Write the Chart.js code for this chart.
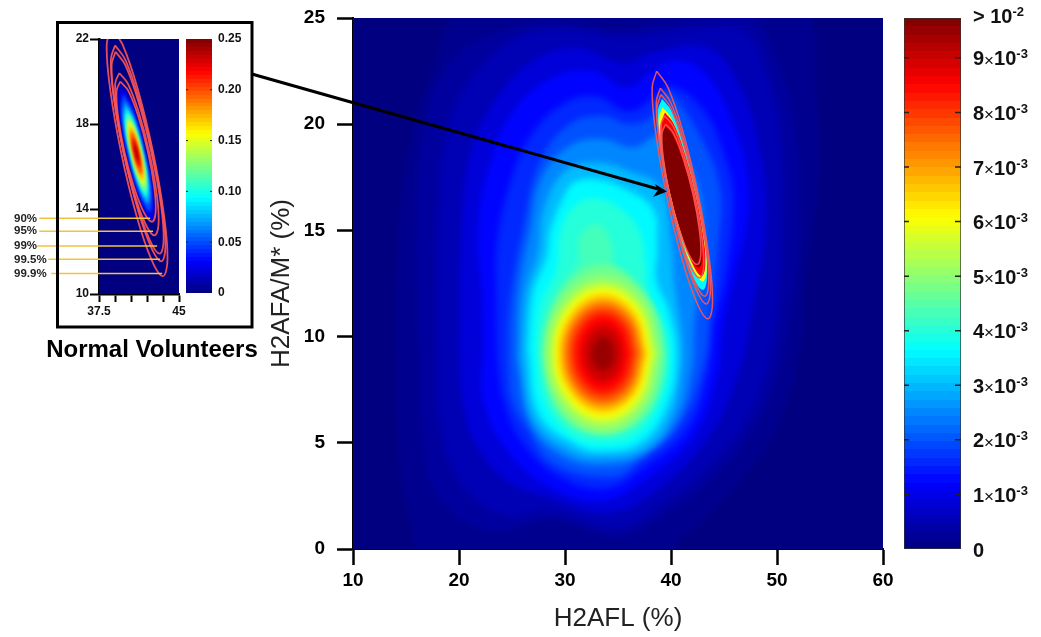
<!DOCTYPE html>
<html>
<head>
<meta charset="utf-8">
<title>H2AFL vs H2AFA/M*</title>
<script src="https://cdn.jsdelivr.net/npm/chart.js@4"></script>
<style>
body { margin: 0; background: #fff; overflow: hidden; font-family: "Liberation Sans", Arial, sans-serif; }
canvas, svg { position: absolute; left: 0; top: 0; }
#caption { position: absolute; left: 40px; top: 335px; width: 224px; text-align: center; font-size: 24px; font-weight: bold; color: #000; white-space: nowrap; }
</style>
</head>
<body>
<canvas id="insetChart" width="1041" height="637"></canvas>
<canvas id="insetBar" width="1041" height="637"></canvas>
<canvas id="mainChart" width="1041" height="637"></canvas>
<canvas id="mainBar" width="1041" height="637"></canvas>
<svg width="1041" height="637">
  <rect x="57.5" y="22.5" width="194.5" height="304.5" fill="none" stroke="#000" stroke-width="3"/>
  <line x1="252" y1="74" x2="658" y2="189" stroke="#000" stroke-width="3"/>
  <polygon points="667,191.5 655,184 658,190 653,197" fill="#000"/>
</svg>
<div id="caption">Normal Volunteers</div>

<script>
// patient density, levels in units of 1e-3
let heatLevels = [0.15, 0.3, 0.5, 0.85, 1.25, 1.6, 2, 2.5, 3, 3.6, 4, 4.3, 4.7, 5, 5.5, 6, 6.5, 7, 7.5, 8, 8.5, 9, 9.5];
let heatContours = [
  [[14.2,5],[14.1,8],[14.2,14],[15.3,19],[17.5,22.5],[20.7,25.6],[36,25.8],[52,25.6],[53.7,21],[53.8,17],[52.6,12.7],[52.2,9.5],[50,5.75],[46.5,3.2],[41,0.5],[38,-0.6],[17.5,-0.6],[15,2],[14.2,5]],
  [[16.2,10],[16,15.5],[16.9,20.3],[19.4,23],[24.2,24.4],[29.5,24.8],[35.5,24.4],[38.3,24.7],[44,25],[47.5,25.1],[49.6,23.4],[51.5,20.3],[52,15],[51.2,11],[49.3,7.2],[45.6,4.2],[39.6,1.7],[35,0.6],[28.9,1.35],[22.6,0.9],[17.9,2.6],[16.6,5.4],[16.2,10]],
  [[17.8,9],[18,15.5],[19,20],[21.8,22.6],[26,24.2],[30,24.5],[35.5,24.1],[38.3,24.3],[44,24.6],[47,24.4],[49,22.5],[50.3,19.5],[50.5,15],[50,11],[48.3,7.2],[44.8,4.5],[39.2,2.1],[35,1],[29,1.7],[24,1.6],[20,3.2],[18.2,5.8],[17.8,9]],
  [[20,9],[20.2,15],[21,18.5],[23.2,21],[27,23],[31,23.6],[35.6,22.9],[38.3,23.4],[43.5,23.6],[46.5,21.8],[48.3,19],[49,15.5],[47.8,11.5],[46.2,8],[43.2,5],[38.2,2.6],[34,1.7],[28.5,2.4],[24.5,3.2],[21.5,5],[20.3,7],[20,9]],
  [[22.2,12],[21.8,15],[22.8,17.9],[25.1,20.6],[28.9,22.2],[32.6,22.5],[35.8,21.7],[38.3,22.5],[40.5,23],[43.4,22.3],[46.2,19.5],[47.3,17.1],[47,15],[45.8,12.5],[44.9,10.5],[44.3,8],[42.1,5.3],[37.1,3.1],[33.6,2.3],[29,2.8],[24.8,4.5],[22.3,7],[22.3,9.5],[22.2,12]],
  [[23.6,9],[23.5,12],[23.6,14.5],[24.8,17.2],[26.8,19.5],[30,21],[33,21.3],[36,20.6],[38.5,21.3],[40,21.8],[43,20.7],[45,18.6],[45.9,16.5],[45.2,13],[44,10.5],[43.5,8.3],[41.5,5.6],[37,3.7],[33.8,2.85],[29.5,3.4],[26,5],[24.2,7],[23.6,9]],
  [[24.6,9],[24.7,11],[25.2,13],[26,15],[27.6,18.2],[30.4,20],[33.6,20.4],[36.1,20],[38.3,20.4],[39.6,21.5],[42.7,19.5],[44.6,17],[44.5,14.5],[43.7,11],[43.1,8.7],[40.9,5.9],[37.1,4.2],[34.5,3.4],[28.9,4],[26.5,5.6],[25,7],[24.6,9]],
  [[25.4,9],[25.6,12],[26.7,15],[27.8,17.5],[30.5,19],[33.5,19.3],[36.5,18.9],[39,19.5],[41.3,18.5],[43,16],[42.8,13],[42.2,10.5],[42,8.5],[40.5,6],[37.3,4.4],[33.8,3.95],[30,4.3],[26.8,5.8],[25.4,9]],
  [[25.9,9],[26.3,12],[27.5,14],[28,16],[30,17.8],[33,18.2],[36,17.8],[39,17],[40,14.5],[40.3,12.5],[41,10],[41,8.5],[40,6.2],[37.5,4.7],[33.6,4.3],[30.5,4.6],[27.1,6],[25.9,9]],
  [[26.5,9.4],[27,12.1],[28.3,13.8],[28.6,15],[30,16.7],[31,17.3],[33,17.4],[35.5,17],[38.3,16],[38.7,14.2],[38.6,12.7],[39.8,11.2],[40.5,9.1],[39.6,6.7],[37.1,5],[33.6,4.6],[31.1,4.9],[27.6,6.3],[26.5,9.4]],
  [[27.3,9.4],[27.7,11.5],[29.2,13.2],[29.6,15],[31,16.2],[33,16.5],[35.3,16],[37,15],[37.6,13.5],[37.9,12],[39.4,10.5],[39.8,9],[39,7],[36.8,5.4],[33.6,5],[30.5,5.4],[28,7],[27.3,9.4]],
  [[27.8,10.2],[29.5,12.3],[30.4,12.9],[31.3,13.6],[31.3,14.6],[33,15.3],[34.4,14.4],[34.6,13.2],[35.2,12.9],[37.7,11.7],[39.3,9.8],[39.3,8.1],[37.4,6.2],[33.6,5.6],[29.8,6.2],[28,8.3],[27.8,10.2]],
  [[28,9.2],[29.5,12],[33.6,13.4],[37.6,12],[39.2,9.2],[37.6,6.4],[33.6,5.4],[29.6,6.4],[28,9.2]],
  [[39.1,9.2],[37.45,11.8],[33.6,12.9],[29.75,11.8],[28.1,9.2],[29.75,6.6],[33.6,5.5],[37.45,6.6],[39.1,9.2]],
  [[38.6,9.2],[37.1,11.55],[33.6,12.55],[30.1,11.55],[28.6,9.2],[30.1,6.85],[33.6,5.85],[37.1,6.85],[38.6,9.2]],
  [[38.15,9.2],[36.8,11.35],[33.6,12.27],[30.4,11.35],[29.05,9.2],[30.4,7.05],[33.6,6.13],[36.8,7.05],[38.15,9.2]],
  [[37.8,9.2],[36.55,11.15],[33.6,12],[30.65,11.15],[29.4,9.2],[30.65,7.25],[33.6,6.4],[36.55,7.25],[37.8,9.2]],
  [[37.45,9.2],[36.3,11],[33.6,11.78],[30.9,11],[29.75,9.2],[30.9,7.4],[33.6,6.62],[36.3,7.4],[37.45,9.2]],
  [[37.1,9.2],[36.05,10.85],[33.6,11.55],[31.15,10.85],[30.1,9.2],[31.15,7.55],[33.6,6.85],[36.05,7.55],[37.1,9.2]],
  [[36.7,9.2],[35.8,10.67],[33.6,11.3],[31.4,10.67],[30.5,9.2],[31.4,7.73],[33.6,7.1],[35.8,7.73],[36.7,9.2]],
  [[36.2,9.2],[35.4,10.46],[33.6,11],[31.8,10.46],[31,9.2],[31.8,7.94],[33.6,7.4],[35.4,7.94],[36.2,9.2]],
  [[35.5,9.2],[34.93,10.15],[33.6,10.55],[32.27,10.15],[31.7,9.2],[32.27,8.25],[33.6,7.85],[34.93,8.25],[35.5,9.2]],
  [[34.7,9.2],[34.37,9.76],[33.6,10],[32.83,9.76],[32.5,9.2],[32.83,8.64],[33.6,8.4],[34.37,8.64],[34.7,9.2]]
];

// the tight normal volunteer population sitting on the main plot
let peakLevels = [3.6, 6, 8.5, 9.73];
let peakContours = [
  [[39.15,21.2],[40.06,20.6],[41.24,18.95],[42.38,16.7],[43.18,14.45],[43.4,12.8],[43.01,12.2],[42.1,12.8],[40.92,14.45],[39.78,16.7],[38.98,18.95],[38.76,20.6],[39.15,21.2]],
  [[39.2,20.8],[40.07,20.25],[41.22,18.75],[42.33,16.7],[43.12,14.65],[43.37,13.15],[43,12.6],[42.13,13.15],[40.98,14.65],[39.87,16.7],[39.08,18.75],[38.83,20.25],[39.2,20.8]],
  [[39.43,20.55],[40.24,20.03],[41.29,18.63],[42.31,16.7],[43.03,14.77],[43.24,13.37],[42.89,12.85],[42.08,13.37],[41.03,14.77],[40.01,16.7],[39.29,18.63],[39.09,20.03],[39.43,20.55]],
  [[39.43,19.95],[40.16,19.5],[41.12,18.28],[42.06,16.6],[42.72,14.92],[42.94,13.7],[42.63,13.25],[41.9,13.7],[40.94,14.92],[40,16.6],[39.34,18.28],[39.12,19.5],[39.43,19.95]]
];

// confidence ellipses, 99.9 / 99.5 / 99 / 95 / 90
let ellipses = [
  [[38.65,22.5],[39.72,21.72],[41.16,19.59],[42.57,16.67],[43.58,13.75],[43.92,11.62],[43.49,10.84],[42.42,11.62],[40.98,13.75],[39.57,16.67],[38.56,19.59],[38.22,21.72],[38.65,22.5]],
  [[39,21.7],[39.97,21.02],[41.26,19.16],[42.52,16.62],[43.42,14.08],[43.73,12.22],[43.34,11.54],[42.37,12.22],[41.08,14.08],[39.82,16.62],[38.92,19.16],[38.61,21.02],[39,21.7]],
  [[39.05,21.4],[39.98,20.76],[41.21,19.03],[42.42,16.65],[43.29,14.27],[43.56,12.54],[43.19,11.9],[42.26,12.54],[41.03,14.27],[39.82,16.65],[38.95,19.03],[38.68,20.76],[39.05,21.4]],
  [[39.4,20.4],[40.22,19.89],[41.26,18.49],[42.25,16.58],[42.92,14.67],[43.08,13.27],[42.7,12.76],[41.88,13.27],[40.84,14.67],[39.85,16.58],[39.18,18.49],[39.02,19.89],[39.4,20.4]],
  [[39.5,20],[40.25,19.56],[41.19,18.35],[42.08,16.7],[42.67,15.05],[42.81,13.84],[42.46,13.4],[41.71,13.84],[40.77,15.05],[39.88,16.7],[39.29,18.35],[39.15,19.56],[39.5,20]]
];

// inset density
let insetLevels = [0.025, 0.05, 0.075, 0.1, 0.125, 0.15, 0.175, 0.2, 0.225, 0.2425];
let insetContours = [
  [[39.52,19.95],[40.63,18.98],[41.95,16.65],[42.72,14.32],[42.48,13.35],[41.37,14.32],[40.05,16.65],[39.28,18.98],[39.52,19.95]],
  [[39.76,19.42],[40.69,18.61],[41.8,16.65],[42.44,14.69],[42.24,13.88],[41.31,14.69],[40.2,16.65],[39.56,18.61],[39.76,19.42]],
  [[39.93,19.03],[40.73,18.33],[41.68,16.65],[42.24,14.97],[42.07,14.27],[41.27,14.97],[40.32,16.65],[39.76,18.33],[39.93,19.03]],
  [[40.07,18.73],[40.76,18.12],[41.6,16.65],[42.08,15.18],[41.93,14.57],[41.24,15.18],[40.4,16.65],[39.92,18.12],[40.07,18.73]],
  [[40.19,18.47],[40.79,17.93],[41.52,16.65],[41.94,15.37],[41.81,14.83],[41.21,15.37],[40.48,16.65],[40.06,17.93],[40.19,18.47]],
  [[40.3,18.2],[40.82,17.75],[41.45,16.65],[41.81,15.55],[41.7,15.1],[41.18,15.55],[40.55,16.65],[40.19,17.75],[40.3,18.2]],
  [[40.42,17.94],[40.85,17.56],[41.37,16.65],[41.67,15.74],[41.58,15.36],[41.15,15.74],[40.63,16.65],[40.33,17.56],[40.42,17.94]],
  [[40.54,17.67],[40.88,17.37],[41.29,16.65],[41.53,15.93],[41.46,15.63],[41.12,15.93],[40.71,16.65],[40.47,17.37],[40.54,17.67]],
  [[40.69,17.34],[40.92,17.14],[41.2,16.65],[41.36,16.16],[41.31,15.96],[41.08,16.16],[40.8,16.65],[40.64,17.14],[40.69,17.34]],
  [[40.84,17.01],[40.96,16.91],[41.1,16.65],[41.19,16.39],[41.16,16.29],[41.04,16.39],[40.9,16.65],[40.81,16.91],[40.84,17.01]]
];

// percent labels on the inset and where their guide lines run
let pctLabels = ['90%', '95%', '99%', '99.5%', '99.9%'];
let pctLineY = [13.56, 12.95, 12.26, 11.63, 10.97];
let pctLineStart = [31.9, 31.9, 31.7, 32.75, 33.03];
let pctLineEnd = [42.29, 42.57, 42.95, 43.23, 43.42];

// colour bars
let barTop = 9.73;
let barTicks = [0, 1, 2, 3, 4, 5, 6, 7, 8, 9, 9.785];
let barMantissa = ['0', '1', '2', '3', '4', '5', '6', '7', '8', '9', '> '];
let insetBarTicks = [0, 0.05, 0.1, 0.15, 0.2, 0.25];
let insetBarLabels = ['0', '0.05', '0.10', '0.15', '0.20', '0.25'];

function jet(t) {
  let c = v => Math.round(255 * Math.max(0, Math.min(1, v)));
  return `rgb(${c(Math.min(4 * t - 1.5, 4.5 - 4 * t))},${c(Math.min(4 * t - 0.5, 3.5 - 4 * t))},${c(Math.min(4 * t + 0.5, 2.5 - 4 * t))})`;
}

function toPoints(poly) {
  return poly.map(p => ({ x: p[0], y: p[1] }));
}

function fillSets(polys, levels, top) {
  return polys.map((poly, i) => ({
    data: toPoints(poly),
    showLine: true,
    fill: 'shape',
    tension: 0.4,
    pointRadius: 0,
    borderWidth: 0,
    backgroundColor: jet(levels[i] / top)
  }));
}

function ringSets(width) {
  return ellipses.map(poly => ({
    data: toPoints(poly),
    showLine: true,
    fill: false,
    tension: 0.4,
    pointRadius: 0,
    borderWidth: width,
    borderColor: 'rgba(250,85,85,0.92)'
  }));
}

// first dataset in the list paints first, so higher levels land on top
function stacked(sets) {
  sets.forEach((s, i) => { s.order = sets.length - i; });
  return sets;
}

let heatPlugin = {
  id: 'heat',
  beforeDatasetsDraw(chart, args, opts) {
    let a = chart.chartArea;
    chart.ctx.fillStyle = jet(0);
    chart.ctx.fillRect(a.left, a.top, a.width, a.height);
    chart.ctx.filter = `blur(${opts.blur}px)`;
  },
  afterDatasetDraw(chart, args, opts) {
    if (args.index === opts.lastBlurred) chart.ctx.filter = 'none';
  }
};

function axisStyle(tickLength, tickWidth) {
  return {
    drawOnChartArea: false,
    drawTicks: true,
    tickLength: tickLength,
    tickColor: '#000',
    tickWidth: tickWidth
  };
}

// keeps the chart area exactly where the padding puts it
function fixBox(s, size) {
  if (s.isHorizontal()) s.height = size; else s.width = size;
  s.paddingLeft = s.paddingRight = s.paddingTop = s.paddingBottom = 0;
}

// main plot
let mainSets = fillSets(heatContours, heatLevels, barTop)
  .concat(fillSets(peakContours, peakLevels, barTop))
  .concat(ringSets(1.5));

new Chart(document.getElementById('mainChart'), {
  type: 'scatter',
  data: { datasets: stacked(mainSets) },
  plugins: [heatPlugin],
  options: {
    responsive: false,
    animation: false,
    layout: { padding: { left: 266, top: 18, right: 158, bottom: 0 } },
    plugins: {
      legend: { display: false },
      tooltip: { enabled: false },
      heat: { blur: 3, lastBlurred: heatContours.length - 1 }
    },
    scales: {
      x: {
        type: 'linear', min: 10, max: 60,
        afterFit(s) { fixBox(s, 88); },
        grid: axisStyle(16, 2.5),
        border: { display: true, color: '#000', width: 2 },
        ticks: { stepSize: 10, color: '#000', padding: 4, maxRotation: 0, font: { family: 'Liberation Sans', size: 19, weight: 'bold' } },
        title: { display: true, text: 'H2AFL (%)', color: '#222', padding: { top: 0, bottom: 3 }, font: { family: 'Liberation Sans', size: 26 } }
      },
      y: {
        type: 'linear', min: 0, max: 25,
        afterFit(s) { fixBox(s, 87); },
        grid: axisStyle(16, 2.5),
        border: { display: true, color: '#000', width: 2 },
        ticks: { stepSize: 5, color: '#000', padding: 12, font: { family: 'Liberation Sans', size: 19, weight: 'bold' } },
        title: { display: true, text: 'H2AFA/M* (%)', color: '#222', padding: { top: 0, bottom: 0 }, font: { family: 'Liberation Sans', size: 26 } }
      }
    }
  }
});

// inset plot
let guideSets = pctLabels.map((name, i) => ({
  label: name,
  data: [{ x: pctLineStart[i], y: pctLineY[i] }, { x: pctLineEnd[i], y: pctLineY[i] }],
  showLine: true,
  clip: false,
  pointRadius: 0,
  borderWidth: 1.5,
  borderColor: '#f2c33c'
}));

let insetSets = fillSets(insetContours, insetLevels, 0.25).concat(ringSets(1.8)).concat(guideSets);

let pctTextPlugin = {
  id: 'pctText',
  afterDraw(chart) {
    let ctx = chart.ctx;
    ctx.save();
    ctx.font = 'bold 11.5px "Liberation Sans"';
    ctx.fillStyle = '#222';
    ctx.textBaseline = 'middle';
    pctLabels.forEach((name, i) => {
      ctx.fillText(name, 14, chart.scales.y.getPixelForValue(pctLineY[i]));
    });
    ctx.restore();
  }
};

new Chart(document.getElementById('insetChart'), {
  type: 'scatter',
  data: { datasets: stacked(insetSets) },
  plugins: [heatPlugin, pctTextPlugin],
  options: {
    responsive: false,
    animation: false,
    layout: { padding: { left: 60, top: 39, right: 862, bottom: 313 } },
    plugins: {
      legend: { display: false },
      tooltip: { enabled: false },
      heat: { blur: 1.5, lastBlurred: insetContours.length - 1 }
    },
    scales: {
      x: {
        type: 'linear', min: 37.5, max: 45,
        afterFit(s) { fixBox(s, 30); },
        afterBuildTicks(s) { s.ticks = [37.5, 39, 40.5, 42, 43.5, 45].map(v => ({ value: v })); },
        grid: axisStyle(8, 2),
        border: { display: true, color: '#000', width: 2.5 },
        ticks: {
          color: '#111', padding: 2, maxRotation: 0, autoSkip: false,
          font: { family: 'Liberation Sans', size: 12, weight: 'bold' },
          callback: v => (v === 37.5 || v === 45) ? String(v) : ''
        }
      },
      y: {
        type: 'linear', min: 10, max: 22,
        afterFit(s) { fixBox(s, 39); },
        afterBuildTicks(s) { s.ticks = [10, 14, 18, 22].map(v => ({ value: v })); },
        grid: axisStyle(9, 2),
        border: { display: true, color: '#000', width: 2.5 },
        ticks: { color: '#111', padding: 1, font: { family: 'Liberation Sans', size: 12, weight: 'bold' } }
      }
    }
  }
});

// colour bars: one floating bar painted with the 64 step jet map
function bandGradient(ctx, area) {
  let g = ctx.createLinearGradient(0, area.bottom, 0, area.top);
  for (let i = 0; i < 64; i++) {
    let col = jet((i + 0.5) / 64);
    g.addColorStop(i / 64, col);
    g.addColorStop((i + 1) / 64, col);
  }
  return g;
}

function barChart(id, top, padding, border, plugin) {
  return new Chart(document.getElementById(id), {
    type: 'bar',
    data: {
      labels: ['density'],
      datasets: [{
        data: [[0, top]],
        categoryPercentage: 1,
        barPercentage: 1,
        borderWidth: border,
        borderSkipped: false,
        borderColor: '#333',
        backgroundColor: c => c.chart.chartArea ? bandGradient(c.chart.ctx, c.chart.chartArea) : '#000'
      }]
    },
    plugins: [plugin],
    options: {
      responsive: false,
      animation: false,
      layout: { padding: padding },
      plugins: { legend: { display: false }, tooltip: { enabled: false } },
      scales: {
        x: { display: false },
        y: { display: false, min: 0, max: top }
      }
    }
  });
}

let mainBarPlugin = {
  id: 'mainBarText',
  afterDraw(chart) {
    let ctx = chart.ctx, a = chart.chartArea, y = chart.scales.y;
    ctx.save();
    ctx.strokeStyle = '#222';
    ctx.lineWidth = 1.5;
    barTicks.slice(1, 10).forEach(v => {
      let p = y.getPixelForValue(v);
      ctx.beginPath();
      ctx.moveTo(a.left, p); ctx.lineTo(a.left + 5, p);
      ctx.moveTo(a.right - 6, p); ctx.lineTo(a.right, p);
      ctx.stroke();
    });
    ctx.fillStyle = '#111';
    ctx.textBaseline = 'middle';
    barTicks.forEach((v, i) => {
      let p = y.getPixelForValue(v) + 2, x = 973;
      ctx.font = 'bold 20px "Liberation Sans"';
      ctx.fillText(barMantissa[i], x, p);
      x += ctx.measureText(barMantissa[i]).width;
      if (i === 0) return;
      if (i < 10) {
        ctx.font = '17px "Liberation Sans"';
        ctx.fillText('×', x, p + 1);
        x += ctx.measureText('×').width;
      }
      ctx.font = 'bold 20px "Liberation Sans"';
      ctx.fillText('10', x, p);
      x += ctx.measureText('10').width;
      ctx.font = 'bold 13px "Liberation Sans"';
      ctx.fillText(i === 10 ? '-2' : '-3', x, p - 5);
    });
    ctx.restore();
  }
};

let insetBarPlugin = {
  id: 'insetBarText',
  afterDraw(chart) {
    let ctx = chart.ctx, a = chart.chartArea, y = chart.scales.y;
    ctx.save();
    ctx.strokeStyle = '#222';
    ctx.lineWidth = 1;
    ctx.fillStyle = '#111';
    ctx.font = 'bold 12px "Liberation Sans"';
    ctx.textBaseline = 'middle';
    insetBarTicks.forEach((v, i) => {
      let p = y.getPixelForValue(v);
      if (i > 0 && i < insetBarTicks.length - 1) {
        ctx.beginPath();
        ctx.moveTo(a.left, p); ctx.lineTo(a.left + 2, p);
        ctx.moveTo(a.right - 2, p); ctx.lineTo(a.right, p);
        ctx.stroke();
      }
      ctx.fillText(insetBarLabels[i], 218, p);
    });
    ctx.restore();
  }
};

barChart('mainBar', barTop, { left: 904, top: 18, right: 80, bottom: 88 }, 1, mainBarPlugin);
barChart('insetBar', 0.25, { left: 186, top: 39, right: 829, bottom: 344 }, 0, insetBarPlugin);
</script>
</body>
</html>
